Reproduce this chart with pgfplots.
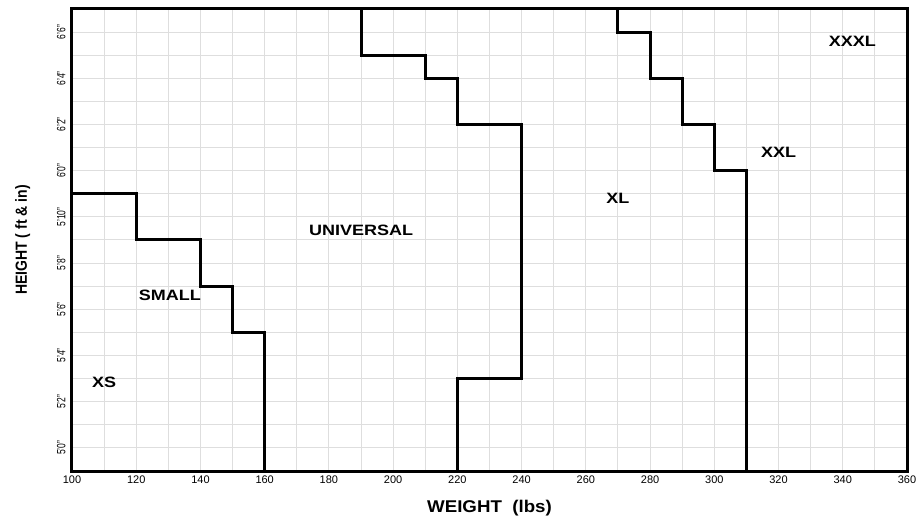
\documentclass[border=0pt]{standalone}
\usepackage{fontspec}
\setmainfont{Liberation Sans}
\usepackage{pgfplots}
\pgfplotsset{compat=1.18}
\begin{document}
\begin{tikzpicture}
\begin{axis}[
  scale only axis, width=835pt, height=462pt,
  xmin=100, xmax=360, ymin=59, ymax=79,
  xtick={100,120,...,360}, minor xtick={110,130,...,350},
  ytick={60,62,...,78}, minor ytick={59,61,...,79},
  yticklabels={
    \scalebox{0.85}[1.2]{5'0"},\scalebox{0.85}[1.2]{5'2"},\scalebox{0.85}[1.2]{5'4"},
    \scalebox{0.85}[1.2]{5'6"},\scalebox{0.85}[1.2]{5'8"},\scalebox{0.85}[1.2]{5'10"},
    \scalebox{0.85}[1.2]{6'0"},\scalebox{0.85}[1.2]{6'2"},\scalebox{0.85}[1.2]{6'4"},
    \scalebox{0.85}[1.2]{6'6"}},
  grid=both,
  grid style={draw=black!13, line width=1pt},
  minor grid style={draw=black!13, line width=1pt},
  major tick length=0pt, minor tick length=0pt,
  axis line style={line width=3pt},
  /pgf/number format/assume math mode=true,
  /pgf/number format/1000 sep={},
  xticklabel style={font=\fontsize{11}{13}\selectfont, yshift=-1.5pt},
  yticklabel style={xshift=-3pt, rotate=90, anchor=south, font=\fontsize{10}{11}\selectfont},
  xlabel={\scalebox{1.1}[1]{WEIGHT\ \ (lbs)}},
  ylabel={\scalebox{1}[1.15]{HEIGHT ( ft \& in)}},
  xlabel style={font=\bfseries\fontsize{17}{20}\selectfont, at={(axis description cs:0.5,-0.080)}, anchor=center},
  ylabel style={font=\bfseries\fontsize{14}{17}\selectfont, at={(axis description cs:-0.059,0.5)}, anchor=center},
]
\addplot[black, line width=3pt] coordinates {(100,71)(120,71)(120,69)(140,69)(140,67)(150,67)(150,65)(160,65)(160,59)};
\addplot[black, line width=3pt] coordinates {(190,79)(190,77)(210,77)(210,76)(220,76)(220,74)(240,74)(240,63)(220,63)(220,59)};
\addplot[black, line width=3pt] coordinates {(270,79)(270,78)(280,78)(280,76)(290,76)(290,74)(300,74)(300,72)(310,72)(310,59)};
\begin{scope}[every node/.style={font=\bfseries\fontsize{15}{18}\selectfont}]
\node at (axis cs:110,62.85) {\scalebox{1.2}[1]{XS}};
\node at (axis cs:130.5,66.6) {\scalebox{1.2}[1]{SMALL}};
\node at (axis cs:190,69.4) {\scalebox{1.2}[1]{UNIVERSAL}};
\node at (axis cs:270,70.8) {\scalebox{1.2}[1]{XL}};
\node at (axis cs:320,72.8) {\scalebox{1.2}[1]{XXL}};
\node at (axis cs:343,77.6) {\scalebox{1.2}[1]{XXXL}};
\end{scope}
\end{axis}
\pgfresetboundingbox
\useasboundingbox ([xshift=-72pt,yshift=-46pt]current axis.south west) rectangle ([xshift=9pt,yshift=9pt]current axis.north east);
\end{tikzpicture}
\end{document}
